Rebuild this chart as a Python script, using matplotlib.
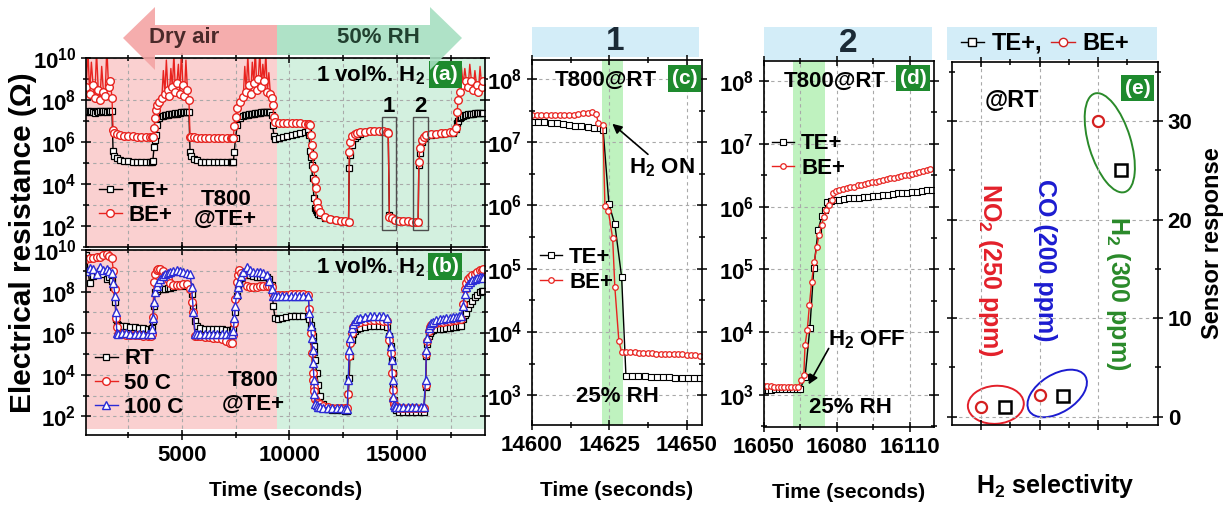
import numpy as np
import matplotlib
matplotlib.use('Agg')
import matplotlib.pyplot as plt
from matplotlib import transforms
from matplotlib.lines import Line2D
from matplotlib.patches import Polygon, Rectangle, Ellipse
from matplotlib.ticker import FixedLocator, LogFormatterSciNotation, NullFormatter

plt.rcParams['font.family'] = ['Liberation Sans', 'DejaVu Sans']
plt.rcParams['font.weight'] = 'bold'
plt.rcParams['axes.labelweight'] = 'bold'
plt.rcParams['mathtext.fontset'] = 'custom'
plt.rcParams['mathtext.rm'] = 'Liberation Sans:bold'
plt.rcParams['mathtext.it'] = 'Liberation Sans:bold'
plt.rcParams['mathtext.bf'] = 'Liberation Sans:bold'
plt.rcParams['mathtext.default'] = 'regular'
plt.rcParams['axes.linewidth'] = 1.2

# ---- panel (a): T800 at RT, TE+ vs BE+ (log10 of resistance) ----
ta = [540, 620, 700, 780, 860, 940, 1020, 1100, 1180, 1260, 1340, 1420, 1500, 1580, 1660, 1740,
      1790, 1850, 1950, 2100,
      2300, 2500, 2700, 2900, 3100, 3300, 3500, 3600,
      3640, 3700, 3750, 3795, 3855, 3950, 4060,
      4130, 4200, 4270, 4340, 4410, 4480, 4550, 4620, 4690, 4760, 4830, 4900, 4970, 5040, 5110, 5180, 5250, 5320,
      5372, 5430, 5550, 5700,
      5870, 6070, 6270, 6470, 6670, 6870, 7070, 7270, 7340,
      7387, 7430, 7490, 7570, 7690, 7850,
      7920, 7990, 8060, 8130, 8200, 8270, 8340, 8410, 8480, 8550, 8620, 8690, 8760, 8830, 8900, 8970, 9040, 9110,
      9170, 9216, 9278, 9340,
      9500, 9700, 9900, 10100, 10300, 10500, 10700, 10875,
      10920, 10950, 10985, 11030, 11075, 11140, 11185, 11215, 11260, 11340, 11420, 11650,
      11900, 12150, 12400, 12600, 12750,
      12781, 12812, 12890, 13045, 13160, 13277, 13500, 13742, 13950, 14150, 14350, 14517, 14595,
      14650, 14750, 14900,
      15100, 15300, 15500, 15700, 15900, 15990,
      16020, 16067, 16145, 16250, 16377, 16600, 16842, 17050, 17250, 17450, 17617, 17772,
      17803, 17850, 17927, 18000, 18082, 18160, 18237, 18315, 18392, 18470, 18550, 18630, 18710, 18790, 18870, 18950, 19012]
te_a = [7.45, 7.48, 7.42, 7.50, 7.45, 7.40, 7.48, 7.45, 7.50, 7.42, 7.47, 7.50, 7.45, 7.48, 7.50, 7.47,
        5.55, 5.35, 5.22, 5.15,
        5.10, 5.08, 5.06, 5.05, 5.05, 5.04, 5.04, 5.05,
        5.10, 5.78, 6.10, 6.33, 6.80, 7.13, 7.25,
        7.26, 7.28, 7.27, 7.30, 7.32, 7.31, 7.33, 7.35, 7.36, 7.35, 7.38, 7.40, 7.41, 7.42, 7.43, 7.44, 7.45, 7.45,
        5.54, 5.35, 5.20, 5.12,
        5.07, 5.05, 5.04, 5.04, 5.03, 5.03, 5.03, 5.03, 5.04,
        5.05, 5.54, 6.20, 6.80, 7.13, 7.25,
        7.27, 7.28, 7.30, 7.32, 7.31, 7.33, 7.35, 7.36, 7.38, 7.40, 7.40, 7.42, 7.43, 7.44, 7.45, 7.45, 7.44, 7.42,
        7.30, 6.80, 6.30, 6.15,
        6.20, 6.25, 6.30, 6.35, 6.40, 6.45, 6.50, 6.52,
        6.33, 5.57, 5.30, 4.90, 4.28, 3.33, 2.86, 2.75, 2.65, 2.58, 2.52, 2.40,
        2.32, 2.27, 2.24, 2.22, 2.20,
        4.76, 5.38, 5.86, 6.17, 6.30, 6.40, 6.47, 6.52, 6.52, 6.51, 6.50, 6.48, 6.45,
        2.52, 2.40, 2.30,
        2.25, 2.23, 2.22, 2.21, 2.20, 2.20,
        4.90, 5.50, 6.00, 6.20, 6.30, 6.35, 6.38, 6.40, 6.42, 6.44, 6.45, 6.60,
        6.90, 7.00, 7.13, 7.20, 7.25, 7.28, 7.30, 7.32, 7.33, 7.34, 7.35, 7.36, 7.37, 7.38, 7.39, 7.40, 7.40]
be_a = [8.6, 10.4, 8.3, 9.8, 8.7, 8.1, 10.3, 8.5, 8.0, 9.6, 8.4, 8.2, 10.5, 8.6, 8.9, 8.1,
        6.55, 6.45, 6.38, 6.33,
        6.30, 6.28, 6.27, 6.26, 6.25, 6.24, 6.24, 6.24,
        6.26, 6.67, 7.14, 7.52, 7.76, 7.90, 8.10,
        9.4, 8.3, 9.9, 8.5, 8.2, 9.5, 8.6, 10.2, 8.4, 8.8, 9.7, 8.3, 10.3, 8.7, 8.2, 9.9, 8.5, 8.0,
        6.25, 6.23, 6.22, 6.21,
        6.20, 6.20, 6.20, 6.19, 6.19, 6.19, 6.19, 6.19, 6.20,
        6.20, 6.76, 7.20, 7.60, 7.90, 8.16,
        9.6, 8.4, 10.1, 8.7, 8.3, 9.8, 8.8, 10.4, 8.5, 9.0, 10.3, 8.6, 9.7, 8.9, 10.2, 8.4, 9.3, 8.3,
        8.08, 7.76, 7.20, 6.95,
        6.90, 6.90, 6.90, 6.90, 6.90, 6.89, 6.88, 6.88,
        6.85, 6.80, 6.33, 5.86, 5.38, 4.76, 4.20, 3.81, 3.14, 2.86, 2.67, 2.43,
        2.35, 2.30, 2.25, 2.22, 2.20,
        5.54, 6.00, 6.30, 6.40, 6.44, 6.46, 6.50, 6.54, 6.54, 6.53, 6.52, 6.50, 6.45,
        2.43, 2.36, 2.30,
        2.26, 2.24, 2.22, 2.21, 2.20, 2.20,
        5.06, 5.70, 6.10, 6.25, 6.33, 6.37, 6.40, 6.42, 6.44, 6.46, 6.48, 6.65,
        7.44, 8.00, 8.40, 9.6, 8.70, 9.5, 8.9, 8.6, 9.7, 8.9, 8.5, 9.4, 8.7, 8.4, 9.6, 8.6, 8.9]
zoom_boxes = [(14300, 14950), (15740, 16440)]   # windows shown in (c) and (d)

# ---- panel (b): TE+ at RT / 50 C / 100 C ----
tb = [540, 700, 877, 1030, 1187, 1340, 1497, 1620, 1730,
      1807, 1885, 1931, 1962, 2040,
      2200, 2400, 2600, 2800, 3000, 3200, 3400, 3540,
      3590, 3636, 3698, 3745, 3822, 3900, 3977, 4100, 4210, 4330, 4442, 4600, 4752, 4900, 5062, 5220, 5372,
      5450, 5527, 5605, 5682,
      5850, 6050, 6250, 6450, 6650, 6850, 7050, 7250, 7340,
      7387, 7433, 7480, 7542, 7600, 7666, 7760, 7852, 8007, 8160, 8317, 8470, 8627, 8780, 8937, 9060, 9170, 9247, 9325, 9480,
      9650, 9850, 10050, 10250, 10450, 10650, 10875,
      10921, 10983, 11030, 11076, 11107, 11138, 11154, 11200, 11260, 11340, 11417, 11570,
      11800, 12000, 12200, 12400, 12600, 12688,
      12735, 12781, 12812, 12890, 12970, 13045, 13160, 13277, 13500, 13742, 13950, 14150, 14362, 14548,
      14641, 14703, 14750, 14796, 14827, 14858, 14900, 14950,
      15100, 15300, 15500, 15700, 15900, 16100, 16250,
      16331, 16377, 16420, 16486, 16550, 16610, 16700, 16842, 17000, 17150, 17300, 17462, 17600, 17750, 17900, 18005,
      18082, 18160, 18237, 18315, 18392, 18500, 18625, 18740, 18857, 18940, 19012]
rt_b = [9.75, 8.40, 8.75, 8.90, 9.00, 8.85, 8.60, 8.70, 8.50,
        8.20, 7.50, 6.70, 6.45, 6.38,
        6.36, 6.33, 6.30, 6.28, 6.26, 6.24, 6.22, 6.20,
        6.25, 6.60, 7.30, 7.97, 8.05, 8.10, 8.13, 8.13, 8.14, 8.15, 8.18, 8.20, 8.25, 8.28, 8.30, 8.25, 8.20,
        7.90, 7.30, 6.60, 6.34,
        6.25, 6.22, 6.20, 6.19, 6.18, 6.18, 6.17, 6.17, 6.17,
        6.20, 6.50, 7.00, 7.80, 8.20, 8.45, 8.65, 8.78, 8.80, 8.78, 8.75, 8.72, 8.72, 8.70, 8.68, 8.60, 8.30, 7.32, 6.75, 6.70,
        6.75, 6.80, 6.82, 6.83, 6.83, 6.83, 6.83,
        6.67, 6.40, 6.10, 5.85, 5.60, 5.37, 5.10, 4.72, 4.07, 3.50, 3.00, 2.60,
        2.36, 2.32, 2.30, 2.28, 2.27, 2.27,
        3.09, 3.82, 4.90, 5.69, 5.95, 6.10, 6.20, 6.26, 6.30, 6.34, 6.35, 6.35, 6.34, 6.30,
        5.85, 5.37, 4.72, 4.07, 3.42, 2.77, 2.40, 2.28,
        2.22, 2.20, 2.20, 2.20, 2.20, 2.20, 2.20,
        3.42, 4.88, 5.50, 5.85, 6.00, 6.10, 6.15, 6.18, 6.20, 6.22, 6.24, 6.26, 6.28, 6.30, 6.32, 6.34,
        6.67, 6.85, 6.99, 7.20, 7.40, 7.55, 7.72, 7.85, 7.97, 8.02, 8.05]
c50_b = [9.55, 9.60, 9.60, 9.65, 9.65, 9.75, 9.80, 9.70, 9.60,
         9.00, 8.10, 6.75, 6.30, 5.95,
         5.94, 5.93, 5.92, 5.91, 5.90, 5.88, 5.87, 5.86,
         5.95, 6.80, 8.45, 8.85, 9.02, 9.10, 9.10, 9.00, 8.80, 8.60, 8.40, 8.30, 8.30, 8.32, 8.38, 8.35, 8.10,
         7.50, 7.00, 5.85, 5.85,
         5.84, 5.82, 5.80, 5.78, 5.75, 5.70, 5.62, 5.55, 5.53,
         5.90, 6.50, 7.64, 8.45, 8.80, 9.02, 8.90, 8.78, 8.29, 8.22, 8.20, 8.22, 8.25, 8.25, 8.25, 8.25, 8.20, 7.90, 7.85, 7.85,
         7.85, 7.85, 7.86, 7.86, 7.87, 7.87, 7.85,
         7.15, 6.00, 5.04, 4.07, 3.75, 3.42, 3.20, 2.85, 2.70, 2.65, 2.60, 2.50,
         2.45, 2.42, 2.40, 2.40, 2.38, 2.38,
         3.09, 4.88, 5.53, 6.02, 6.30, 6.42, 6.50, 6.54, 6.60, 6.63, 6.63, 6.62, 6.60, 6.58,
         5.69, 5.04, 4.07, 3.25, 2.80, 2.60, 2.50, 2.45,
         2.42, 2.40, 2.40, 2.40, 2.40, 2.40, 2.40,
         3.50, 5.00, 5.60, 6.10, 6.30, 6.38, 6.45, 6.50, 6.53, 6.55, 6.57, 6.60, 6.62, 6.64, 6.66, 6.68,
         7.40, 8.13, 8.40, 8.62, 8.70, 8.78, 8.86, 8.95, 9.02, 9.06, 9.10]
c100_b = [9.00, 9.15, 9.10, 8.85, 9.20, 9.05, 9.10, 9.00, 8.90,
          8.40, 7.80, 7.00, 6.00, 5.98,
          5.99, 5.99, 5.98, 5.98, 5.97, 5.97, 5.96, 5.96,
          6.18, 6.75, 7.50, 7.97, 8.29, 8.45, 8.62, 8.75, 8.86, 8.90, 8.94, 8.98, 9.02, 8.98, 8.95, 8.90, 8.86,
          8.20, 7.00, 5.94, 5.96,
          5.97, 5.97, 5.96, 5.96, 5.95, 5.95, 5.94, 5.94, 5.94,
          6.10, 6.75, 7.32, 7.90, 8.20, 8.45, 8.75, 8.94, 9.18, 9.05, 8.94, 8.96, 8.94, 8.90, 8.80, 8.50, 8.13, 7.80, 7.80, 7.80,
          7.80, 7.80, 7.80, 7.80, 7.81, 7.81, 7.80,
          6.99, 6.34, 5.77, 5.20, 4.55, 3.74, 3.09, 2.60, 2.52, 2.47, 2.44, 2.42,
          2.41, 2.40, 2.39, 2.38, 2.37, 2.36,
          3.74, 5.20, 5.77, 6.26, 6.45, 6.58, 6.68, 6.75, 6.80, 6.83, 6.84, 6.84, 6.83, 6.75,
          6.02, 5.37, 4.72, 3.74, 2.93, 2.52, 2.47, 2.45,
          2.44, 2.44, 2.44, 2.44, 2.44, 2.44, 2.44,
          3.74, 5.20, 5.77, 6.26, 6.40, 6.50, 6.56, 6.63, 6.68, 6.70, 6.72, 6.75, 6.78, 6.80, 6.82, 6.83,
          7.32, 7.90, 8.20, 8.35, 8.45, 8.55, 8.62, 8.66, 8.70, 8.68, 8.65]

# ---- panel (c): window 1, H2 switched on ----
tc_te = [14600, 14602, 14604, 14606, 14608, 14610, 14612, 14614, 14616, 14618, 14620, 14622,
         14623, 14624.9, 14626.8, 14629, 14630.4,
         14632.4, 14634.4, 14636.4, 14638.4, 14640.4, 14642.4, 14644.4, 14646.4, 14648.4, 14650.4, 14652.4, 14654.4]
te_c = [7.32, 7.32, 7.32, 7.31, 7.30, 7.29, 7.27, 7.26, 7.25, 7.24, 7.23, 7.22,
        7.20, 6.02, 5.70, 4.87, 3.30,
        3.30, 3.30, 3.30, 3.29, 3.29, 3.29, 3.29, 3.28, 3.28, 3.28, 3.28, 3.28]
tc_be = [14600, 14601.5, 14603, 14604.5, 14606, 14607.5, 14609, 14610.5, 14612, 14613.5, 14615, 14616.5, 14618, 14619.5,
         14620.7, 14621.5, 14622.9,
         14623.6, 14624.7, 14626.1, 14626.8, 14628.1, 14629,
         14630.4, 14631.8, 14633.2, 14634.6, 14636, 14637.4, 14638.8, 14640.2, 14641.6, 14643, 14644.4, 14645.8,
         14647.2, 14648.6, 14650, 14651.4, 14652.8, 14654.2]
be_c = [7.43, 7.43, 7.43, 7.43, 7.43, 7.43, 7.43, 7.43, 7.43, 7.43, 7.44, 7.46, 7.47, 7.48,
        7.45, 7.30, 7.28,
        5.99, 5.91, 5.48, 4.71, 3.86, 3.68,
        3.68, 3.68, 3.68, 3.67, 3.67, 3.67, 3.67, 3.66, 3.66, 3.66, 3.66, 3.65,
        3.65, 3.65, 3.64, 3.64, 3.63, 3.62]

# ---- panel (d): window 2, H2 switched off ----
td_te = [16050, 16051.5, 16053, 16054.5, 16056, 16057.5, 16059, 16060.5, 16062, 16063.5, 16065,
         16066.9, 16068.9, 16070.5, 16072.3, 16073.8, 16075, 16076, 16077.5, 16079,
         16081, 16083, 16085, 16087, 16089, 16091, 16093, 16095, 16097, 16099,
         16101, 16103, 16105, 16107, 16109, 16111, 16113, 16115, 16117, 16119]
te_d = [3.08, 3.08, 3.08, 3.09, 3.09, 3.09, 3.09, 3.09, 3.09, 3.09, 3.10,
        3.29, 4.07, 5.02, 5.63, 5.85, 5.95, 6.08, 6.09, 6.10,
        6.11, 6.12, 6.13, 6.13, 6.14, 6.15, 6.16, 6.17, 6.17, 6.18,
        6.19, 6.20, 6.21, 6.21, 6.22, 6.23, 6.24, 6.25, 6.26, 6.27]
td_be = [16050, 16051.4, 16052.8, 16054.2, 16055.6, 16057, 16058.4, 16059.8, 16061.2, 16062.6, 16064,
         16065.4, 16066.4, 16066.9, 16067.8, 16068.7, 16069.6, 16070.7, 16071.7, 16072.7, 16073.7, 16074.7,
         16075.5, 16076.9, 16077.9, 16078.6, 16079.6,
         16081, 16082.5, 16084, 16085.5, 16087, 16088.5, 16090, 16091.5, 16093, 16094.5, 16096, 16097.5, 16099,
         16100.5, 16102, 16103.5, 16105, 16106.5, 16108, 16109.5, 16111, 16112.5, 16114, 16115.5, 16117, 16118.5]
be_d = [3.14, 3.14, 3.14, 3.13, 3.13, 3.13, 3.13, 3.13, 3.13, 3.12, 3.13,
        3.24, 3.32, 3.80, 4.03, 4.43, 4.80, 5.12, 5.36, 5.55, 5.70, 5.84,
        5.95, 6.03, 6.10, 6.22, 6.25,
        6.27, 6.28, 6.30, 6.31, 6.32, 6.34, 6.35, 6.36, 6.38, 6.39, 6.40, 6.41, 6.43,
        6.44, 6.45, 6.46, 6.47, 6.49, 6.50, 6.51, 6.52, 6.54, 6.55, 6.56, 6.58, 6.60]

# ---- panel (e): sensor response at RT ----
gases = ['NO$_2$ (250 ppm)', 'CO (200 ppm)', 'H$_2$ (300 ppm)']
gas_colors = ['#e3202a', '#1c1cd0', '#2a8a2a']
resp_be = [1.0, 2.2, 30.0]
resp_te = [1.0, 2.1, 25.0]

RED = '#e8231f'
BLUE = '#2b2bd6'
PINK = '#fad0d0'
MINT = '#d3f0df'
SKY = '#d3edf8'
GRID = dict(color='#a9a9a9', linestyle=(0, (3, 3)), linewidth=0.8)

W, H = 1230.0, 507.0
fig = plt.figure(figsize=(12.3, 5.07), dpi=100)


def box(x0, y0, x1, y1):
    # pixel box (origin top-left) -> figure fraction rect
    return [x0 / W, 1 - y1 / H, (x1 - x0) / W, (y1 - y0) / H]


def pt(x, y):
    return (x / W, 1 - y / H)


ax_a = fig.add_axes(box(86, 58, 485, 247))
ax_b = fig.add_axes(box(86, 250, 485, 435))
ax_c = fig.add_axes(box(532, 60, 702, 425))
ax_d = fig.add_axes(box(764, 61, 934, 427))
ax_e = fig.add_axes(box(952, 62, 1158, 425))


def log_axis(ax, major, minor):
    ax.set_yscale('log')
    ax.yaxis.set_major_locator(FixedLocator([10.0 ** k for k in major]))
    ax.yaxis.set_minor_locator(FixedLocator([10.0 ** k for k in minor]))
    ax.yaxis.set_major_formatter(LogFormatterSciNotation())
    ax.yaxis.set_minor_formatter(NullFormatter())


def ticks(ax):
    ax.tick_params(which='both', direction='inout', top=True, right=True, labelsize=16, width=1.1)
    ax.tick_params(which='major', length=7)
    ax.tick_params(which='minor', length=4.5)


def tag(ax, x, y, s):
    ax.text(x, y, s, transform=ax.transAxes, ha='center', va='center', color='white', fontsize=15,
            bbox=dict(boxstyle='square,pad=0.18', fc='#1e8a2e', ec='none'), zorder=6)


# ---------- (a) and (b) ----------
for ax, lo in [(ax_a, 0.0), (ax_b, 0.03)]:
    ax.axvspan(500, 9420, ymin=lo, color=PINK, lw=0, zorder=0)
    ax.axvspan(9420, 19100, ymin=lo, color=MINT, lw=0, zorder=0)
    ax.set_xlim(530, 19100)
    log_axis(ax, [2, 4, 6, 8, 10], [1, 3, 5, 7, 9])
    ax.xaxis.set_major_locator(FixedLocator([5000, 10000, 15000]))
    ax.xaxis.set_minor_locator(FixedLocator([2500, 7500, 12500, 17500]))
    ax.grid(True, which='both', **GRID)
    ticks(ax)
ax_a.set_ylim(10, 1e10)
ax_b.set_ylim(10 ** 1.1, 1e10)
ax_a.tick_params(labelbottom=False)

te_a = np.array(te_a)
be_a = np.array(be_a)
ax_a.plot(ta, 10 ** te_a, '-s', color='black', lw=1, ms=5, mfc='white', mec='black', mew=0.9, label='TE+')
be_marks = list(np.where(be_a < 9.25)[0])
ax_a.plot(ta, 10 ** be_a, '-o', color=RED, lw=1, ms=5.5, mfc='white', mec=RED, mew=1, markevery=be_marks,
          label='BE+')
for t0, t1 in zoom_boxes:
    ax_a.add_patch(Rectangle((t0, 10 ** 1.8), t1 - t0, 10 ** 7.19 - 10 ** 1.8, fill=False, ec='#4d4d4d', lw=1,
                             zorder=4))
for s, (t0, t1) in zip(['1', '2'], zoom_boxes):
    ax_a.text((t0 + t1) / 2, 10 ** 7.7, s, ha='center', va='center', fontsize=16)
ax_a.legend(loc='center left', bbox_to_anchor=(0.0, 0.23), frameon=False, fontsize=16, handlelength=1.0,
            handletextpad=0.3, labelspacing=0.15, borderaxespad=0.2)
ax_a.text(0.35, 0.2, 'T800\n@TE+', transform=ax_a.transAxes, ha='center', va='center', fontsize=16,
          linespacing=0.95)
ax_a.text(0.85, 0.91, '1 vol%. H$_2$', transform=ax_a.transAxes, ha='right', va='center', fontsize=16)
tag(ax_a, 0.9, 0.913, '(a)')

ax_b.plot(tb, 10 ** np.array(rt_b), '-s', color='black', lw=1, ms=5, mfc='white', mec='black', mew=0.9, label='RT')
ax_b.plot(tb, 10 ** np.array(c50_b), '-o', color=RED, lw=1, ms=5.5, mfc='white', mec=RED, mew=1, label='50 C')
ax_b.plot(tb, 10 ** np.array(c100_b), '-^', color=BLUE, lw=1, ms=5.5, mfc='white', mec=BLUE, mew=1, label='100 C')
ax_b.legend(loc='center left', bbox_to_anchor=(-0.01, 0.28), frameon=False, fontsize=16, handlelength=1.0,
            handletextpad=0.3, labelspacing=0.15, borderaxespad=0.2)
ax_b.text(0.42, 0.23, 'T800\n@TE+', transform=ax_b.transAxes, ha='center', va='center', fontsize=16,
          linespacing=1.2)
ax_b.text(0.85, 0.905, '1 vol%. H$_2$', transform=ax_b.transAxes, ha='right', va='center', fontsize=16)
tag(ax_b, 0.9, 0.91, '(b)')
ax_b.set_xlabel('Time (seconds)', fontsize=15, labelpad=11)

# ---------- (c) and (d) ----------
for ax, lo, hi in [(ax_c, 2.53, 8.3), (ax_d, 2.49, 8.32)]:
    log_axis(ax, [3, 4, 5, 6, 7, 8], [2.5, 3.5, 4.5, 5.5, 6.5, 7.5])
    ax.set_ylim(10 ** lo, 10 ** hi)
    ax.grid(True, which='major', axis='y', **GRID)
    ticks(ax)

ax_c.set_xlim(14600, 14655)
ax_c.xaxis.set_major_locator(FixedLocator([14600, 14625, 14650]))
ax_c.xaxis.set_minor_locator(FixedLocator([14612.5, 14637.5]))
ax_c.grid(True, which='major', axis='x', **GRID)
ax_c.axvspan(14622.8, 14629.6, color='#bff2bf', lw=0, zorder=0)
ax_c.plot(tc_te, 10 ** np.array(te_c), '-s', color='black', lw=1, ms=4, mfc='white', mec='black', mew=0.8,
          label='TE+')
ax_c.plot(tc_be, 10 ** np.array(be_c), '-o', color=RED, lw=1, ms=4, mfc='white', mec=RED, mew=0.9, label='BE+')
ax_c.legend(loc='center left', bbox_to_anchor=(-0.03, 0.425), frameon=False, fontsize=16, handlelength=1.0,
            handletextpad=0.3, labelspacing=0.15, borderaxespad=0.2)
ax_c.text(14624, 10 ** 7.98, 'T800@RT', ha='center', va='center', fontsize=16)
ax_c.text(14627.5, 10 ** 2.98, '25% RH', ha='center', va='center', fontsize=16)
ax_c.annotate('', xy=(14625.3, 10 ** 7.32), xytext=(14638.2, 10 ** 6.78),
              arrowprops=dict(arrowstyle='-|>', color='black', lw=1.2, mutation_scale=14))
ax_c.text(14642, 10 ** 6.6, 'H$_2$ ON', ha='center', va='center', fontsize=16)
tag(ax_c, 0.897, 0.95, '(c)')
ax_c.set_xlabel('Time (seconds)', fontsize=15, labelpad=18)

ax_d.set_xlim(16050, 16120)
ax_d.xaxis.set_major_locator(FixedLocator([16050, 16080, 16110]))
ax_d.xaxis.set_minor_locator(FixedLocator([16065, 16095]))
ax_d.grid(True, which='both', axis='x', **GRID)
ax_d.axvspan(16061.8, 16075.2, color='#bff2bf', lw=0, zorder=0)
ax_d.plot(td_te, 10 ** np.array(te_d), '-s', color='black', lw=1, ms=4, mfc='white', mec='black', mew=0.8,
          label='TE+')
ax_d.plot(td_be, 10 ** np.array(be_d), '-o', color=RED, lw=1, ms=4, mfc='white', mec=RED, mew=0.9, label='BE+')
ax_d.legend(loc='center left', bbox_to_anchor=(-0.03, 0.74), frameon=False, fontsize=16, handlelength=1.0,
            handletextpad=0.3, labelspacing=0.15, borderaxespad=0.2)
ax_d.text(16079, 10 ** 8.0, 'T800@RT', ha='center', va='center', fontsize=16)
ax_d.text(16085.5, 10 ** 2.8, '25% RH', ha='center', va='center', fontsize=16)
ax_d.annotate('', xy=(16067.8, 10 ** 3.13), xytext=(16077.2, 10 ** 3.78),
              arrowprops=dict(arrowstyle='-|>', color='black', lw=1.2, mutation_scale=14))
ax_d.text(16092.5, 10 ** 3.88, 'H$_2$ OFF', ha='center', va='center', fontsize=16)
tag(ax_d, 0.876, 0.953, '(d)')
ax_d.set_xlabel('Time (seconds)', fontsize=15, labelpad=18)

# ---------- (e) ----------
pos = np.arange(len(gases)) * 2 + 1.0
ax_e.plot(pos, resp_be, 'o', ls='none', ms=8, mfc='white', mec='#d42020', mew=1.6)
ax_e.plot(pos + 0.8, resp_te, 's', ls='none', ms=8, mfc='white', mec='black', mew=1.8)
ax_e.set_xlim(0, 7.05)
ax_e.set_ylim(-0.85, 36)
ax_e.xaxis.set_major_locator(FixedLocator([1, 3, 5]))
ax_e.xaxis.set_minor_locator(FixedLocator([2, 4, 6]))
ax_e.yaxis.set_major_locator(FixedLocator([0, 10, 20, 30]))
ax_e.yaxis.set_minor_locator(FixedLocator([5, 15, 25, 35]))
ax_e.grid(True, which='major', **GRID)
ticks(ax_e)
ax_e.tick_params(labelbottom=False, labelleft=False, labelright=True)
ax_e.yaxis.set_label_position('right')
ax_e.set_ylabel('Sensor response', fontsize=17, labelpad=6)
ax_e.set_xlabel('H$_2$ selectivity', fontsize=18, labelpad=28)

# rings around each gas pair: (x shift, width px, height px, angle)
rings = [(0.1, 56, 38, 4), (0.2, 66, 38, 32), (0.0, 42, 103, 17)]
for i, (dx, w, h, ang) in enumerate(rings):
    cx = (pos[i] + pos[i] + 0.8) / 2 + dx
    cy = (resp_be[i] + resp_te[i]) / 2 + (0.2 if i < 2 else 0.3)
    tr = fig.dpi_scale_trans + transforms.ScaledTranslation(cx, cy, ax_e.transData)
    ax_e.add_patch(Ellipse((0, 0), w / 100, h / 100, angle=ang, fill=False, ec=gas_colors[i], lw=1.4,
                           transform=tr))
for i, (dx, ty) in enumerate([(0.29, 14.9), (0.17, 15.9), (0.69, 12.5)]):
    ax_e.text(pos[i] + dx, ty, gases[i], rotation=-90, color=gas_colors[i], ha='center', va='center', fontsize=18)
ax_e.text(0.29, 0.895, '@RT', transform=ax_e.transAxes, ha='center', va='center', fontsize=17)
tag(ax_e, 0.9, 0.928, '(e)')
hands = [Line2D([], [], color='black', marker='s', ms=6, mfc='white', lw=1),
         Line2D([], [], color='#d42020', marker='o', ms=6, mfc='white', lw=1)]
ax_e.legend(hands, ['TE+,', 'BE+'], ncol=2, loc='center', bbox_to_anchor=(0.45, 1.051), frameon=False,
            fontsize=17, handlelength=1.0, handletextpad=0.3, columnspacing=0.4, borderaxespad=0)

# ---------- figure decorations ----------
for (x0, y0, x1, y1) in [(532, 27, 699, 57), (764, 27, 932, 60), (947, 27, 1157, 60)]:
    fig.add_artist(Rectangle(pt(x0, y1), (x1 - x0) / W, (y1 - y0) / H, transform=fig.transFigure, fc=SKY,
                             ec='none', zorder=-1))
fig.text(615 / W, 1 - 42 / H, '1', ha='center', va='center', fontsize=24, color='#1b2a36')
fig.text(848 / W, 1 - 43 / H, '2', ha='center', va='center', fontsize=24, color='#1b2a36')

dry = [pt(123, 38), pt(155, 7), pt(155, 25), pt(277, 25), pt(277, 55), pt(155, 55), pt(155, 70)]
wet = [pt(462, 38), pt(430, 7), pt(430, 25), pt(277, 25), pt(277, 55), pt(430, 55), pt(430, 70)]
fig.add_artist(Polygon(dry, closed=True, transform=fig.transFigure, fc='#f4a4a4', ec='none', alpha=0.9, zorder=5))
fig.add_artist(Polygon(wet, closed=True, transform=fig.transFigure, fc='#a7dfc1', ec='none', alpha=0.9, zorder=5))
fig.text(184 / W, 1 - 38 / H, 'Dry air', ha='center', va='center', fontsize=16, color='#4a2a2a', zorder=6)
fig.text(378 / W, 1 - 38 / H, '50% RH', ha='center', va='center', fontsize=16, color='#21402f', zorder=6)
fig.text(23 / W, 1 - 243 / H, 'Electrical resistance (\u03a9)', rotation=90, ha='center', va='center',
         fontsize=21.5)

fig.savefig('out.png', dpi=100)
